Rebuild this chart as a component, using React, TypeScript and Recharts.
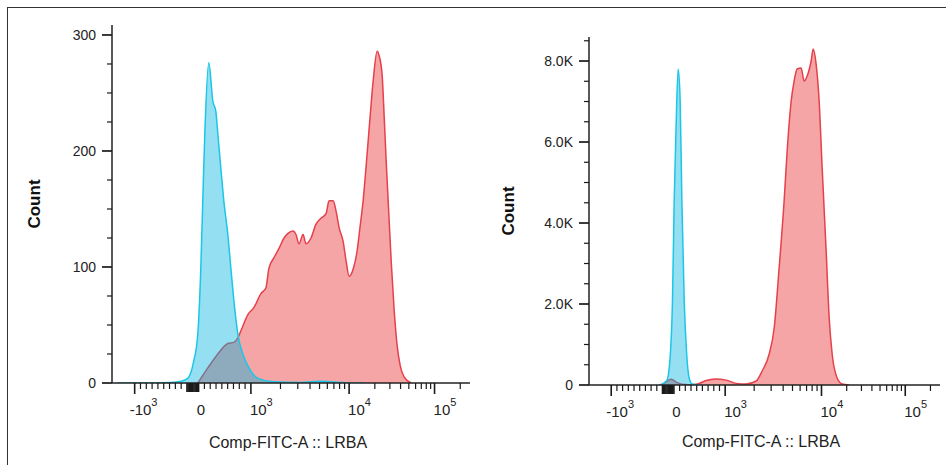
import React from 'react';
import { ComposedChart, Area, XAxis, YAxis } from 'recharts';

// Comp-FITC-A values (x) and event counts
const leftCtrlX = [-1500, -380, -200, -86, 17, 86, 138, 172, 207, 276, 345, 397, 431, 483, 534, 603, 655, 707, 776, 862, 966, 1180, 1720, 3200, 5000, 6500, 10500, 15000];
const leftCtrlCount = [0, 0.5, 1.5, 4, 19, 42, 99, 157, 215, 276, 243, 234, 215, 185, 157, 128, 99, 71, 42, 25, 13, 4, 1, 0.5, 1.5, 1, 0, 0];

const leftLrbaX = [86, 259, 431, 603, 707, 776, 828, 948, 1073, 1264, 1422, 1526, 1718, 1931, 2174, 2386, 2682, 2877, 3090, 3396, 3640, 4094, 4605, 5176, 5821, 6250, 6871, 7370, 7907, 8690, 9320, 10000, 11140, 12410, 13450, 14590, 15820, 17630, 19100, 21280, 22490, 24380, 25720, 27170, 28650, 31090, 33720, 36530, 39630, 44190, 53380];
const leftLrbaCount = [0, 13, 25, 34, 35, 39, 45, 59, 65, 77, 82, 99, 108, 116, 125, 129, 131, 128, 120, 128, 120, 125, 137, 142, 146, 157, 157, 148, 134, 122, 105, 92, 98, 114, 135, 157, 187, 230, 260, 286, 282, 265, 230, 191, 157, 105, 62, 32, 15, 5, 0];

const rightCtrlX = [-158, -30, 18, 75, 105, 135, 175, 210, 240, 281, 321, 368, 420, 544];
const rightCtrlCount = [0, 99, 420, 2074, 4543, 6197, 7800, 7012, 4543, 2074, 840, 173, 25, 0];

const rightLrbaX = [-105, -18, 53, 158, 298, 421, 544, 667, 825, 1025, 1301, 1652, 2099, 2422, 2865, 3228, 3633, 4093, 4401, 4844, 5200, 5587, 6146, 6607, 7103, 7809, 8199, 8797, 9454, 10190, 11370, 12360, 13410, 15380, 17660, 21400];
const rightLrbaCount = [0, 99, 140, 60, 10, 5, 40, 110, 150, 120, 40, 25, 99, 346, 765, 1407, 2889, 4543, 5777, 7012, 7506, 7802, 7827, 7506, 7630, 8000, 8296, 7925, 7012, 5358, 3308, 1654, 765, 173, 25, 0];

// axis ticks (raw FITC values)
const xMajor = [-1000, 1000, 10000, 100000];
const xMajorLabels = [['-10', '3'], ['10', '3'], ['10', '4'], ['10', '5']];
const xZeroCluster = [-100, -80, -60, -40, -20, 0, 20, 40, 60, 80, 100];
const xLinearMinor = [-900, -800, -700, -600, -500, -400, -300, -200, 200, 300, 400, 500, 600, 700, 800, 900];
const xLogMinor = [2000, 3000, 4000, 5000, 6000, 7000, 8000, 9000, 20000, 30000, 40000, 50000, 60000, 70000, 80000, 90000, 200000];

const leftYTicks = [0, 25, 50, 75, 100, 125, 150, 175, 200, 225, 250, 275, 300];
const leftYLabels: Record<number, string> = { 0: '0', 100: '100', 200: '200', 300: '300' };
const rightYTicks = [0, 500, 1000, 1500, 2000, 2500, 3000, 3500, 4000, 4500, 5000, 5500, 6000, 6500, 7000, 7500, 8000, 8500];
const rightYLabels: Record<number, string> = { 0: '0', 2000: '2.0K', 4000: '4.0K', 6000: '6.0K', 8000: '8.0K' };

const FONT = '"Liberation Sans", Arial, sans-serif';
const INK = '#222';

// biexponential-like display: linear inside ±1000, log decades outside
const D1 = 1.69;
const D2 = 1.47;
function display(v: number): number {
  const a = Math.abs(v);
  if (a <= 1000) return v / 1000;
  const d = Math.log10(a);
  const t = d <= 4 ? 1 + (d - 3) * D1 : 1 + D1 + (d - 4) * D2;
  return Math.sign(v) * t;
}

const X_DOMAIN: [number, number] = [-1.39, 4.77];

type TickSpec = { kind: 'major' | 'cluster' | 'minor'; base?: string; exp?: string; dx?: number };
const tickSpecs = new Map<string, TickSpec>();
const k = (v: number) => v.toFixed(5);
xLinearMinor.concat(xLogMinor).forEach(v => tickSpecs.set(k(display(v)), { kind: 'minor' }));
xZeroCluster.forEach(v => tickSpecs.set(k(display(v)), { kind: 'cluster' }));
tickSpecs.set(k(0), { kind: 'cluster', base: '0', dx: 4 });
xMajor.forEach((v, i) =>
  tickSpecs.set(k(display(v)), { kind: 'major', base: xMajorLabels[i][0], exp: xMajorLabels[i][1], dx: v < 0 ? -5 : -1 })
);
const xTickValues = Array.from(tickSpecs.keys()).map(Number).sort((a, b) => a - b);

function XTick(props: any) {
  const { x, y, payload } = props;
  const spec = tickSpecs.get(k(payload.value)) || { kind: 'minor' };
  const len = spec.kind === 'minor' ? 6 : spec.kind === 'cluster' ? 9 : 11;
  return (
    <g>
      <line x1={x} x2={x} y1={y} y2={y + len} stroke="#1a1a1a" strokeWidth={spec.kind === 'minor' ? 1.2 : 1.6} />
      {spec.base && (
        <text x={x + (spec.dx || 0)} y={y + 32} fontSize={15} fill={INK} fontFamily={FONT} textAnchor="start">
          {spec.base}
          {spec.exp && (
            <tspan dy={-9} fontSize={11}>
              {spec.exp}
            </tspan>
          )}
        </text>
      )}
    </g>
  );
}

function YTick(props: any) {
  const { x, y, payload, labels } = props;
  const label = labels[payload.value];
  const major = label !== undefined;
  return (
    <g>
      <line x1={x - (major ? 10 : 5)} x2={x} y1={y} y2={y} stroke="#1a1a1a" strokeWidth={major ? 1.7 : 1.2} />
      {major && (
        <text x={x - 16} y={y} dy="0.36em" fontSize={14} fill={INK} fontFamily={FONT} textAnchor="end">
          {label}
        </text>
      )}
    </g>
  );
}

function CountTitle({ cx, cy }: { cx: number; cy: number }) {
  return (
    <text x={cx} y={cy} transform={`rotate(-90 ${cx} ${cy})`} dy="0.35em" textAnchor="middle" fontSize={17} fontWeight="bold" fill="#111" fontFamily={FONT}>
      Count
    </text>
  );
}

function XTitle({ cx, cy }: { cx: number; cy: number }) {
  return (
    <text x={cx} y={cy} textAnchor="middle" fontSize={16} fill={INK} fontFamily={FONT}>
      Comp-FITC-A :: LRBA
    </text>
  );
}

interface PanelProps {
  left: number;
  width: number;
  margin: { top: number; right: number; bottom: number; left: number };
  yMax: number;
  yTicks: number[];
  yLabels: Record<number, string>;
  ctrl: { pos: number; count: number }[];
  lrba: { pos: number; count: number }[];
  countPos: [number, number];
  titlePos: [number, number];
}

function Panel(p: PanelProps) {
  return (
    <div style={{ position: 'absolute', left: p.left, top: 0 }}>
      <ComposedChart width={p.width} height={465} margin={p.margin}>
        <XAxis
          xAxisId="b"
          dataKey="pos"
          type="number"
          domain={X_DOMAIN}
          allowDataOverflow
          ticks={xTickValues}
          interval={0}
          tickSize={0}
          tickMargin={0}
          height={30}
          tickLine={false}
          axisLine={{ stroke: INK, strokeWidth: 1.5 }}
          tick={(t: any) => <XTick {...t} />}
          label={<XTitle cx={p.titlePos[0]} cy={p.titlePos[1]} />}
        />
        <XAxis xAxisId="t" type="number" orientation="top" domain={X_DOMAIN} allowDataOverflow height={0} tick={false} tickLine={false} axisLine={{ stroke: INK, strokeWidth: 1.5 }} />
        <YAxis
          yAxisId="l"
          type="number"
          domain={[0, p.yMax]}
          allowDataOverflow
          ticks={p.yTicks}
          interval={0}
          tickSize={0}
          tickMargin={0}
          width={60}
          tickLine={false}
          axisLine={{ stroke: INK, strokeWidth: 1.5 }}
          tick={(t: any) => <YTick {...t} labels={p.yLabels} />}
          label={<CountTitle cx={p.countPos[0]} cy={p.countPos[1]} />}
        />
        <YAxis yAxisId="r" type="number" orientation="right" domain={[0, p.yMax]} allowDataOverflow width={0} tick={false} tickLine={false} axisLine={{ stroke: INK, strokeWidth: 1.5 }} />
        <Area
          xAxisId="b"
          yAxisId="l"
          data={p.lrba}
          dataKey="count"
          type="monotone"
          stroke="#e5404b"
          strokeWidth={1.5}
          fill="#f5a5a5"
          fillOpacity={1}
          dot={false}
          activeDot={false}
          isAnimationActive={false}
        />
        <Area
          xAxisId="b"
          yAxisId="l"
          data={p.ctrl}
          dataKey="count"
          type="monotone"
          stroke="#1cc6e6"
          strokeWidth={1.5}
          fill="#00b2df"
          fillOpacity={0.42}
          dot={false}
          activeDot={false}
          isAnimationActive={false}
        />
      </ComposedChart>
    </div>
  );
}

const toSeries = (xs: number[], cs: number[]) => xs.map((x, i) => ({ pos: display(x), count: cs[i] }));

export default function App() {
  return (
    <div style={{ position: 'absolute', left: 0, top: 0, width: 947, height: 465, background: '#fff', overflow: 'hidden' }}>
      <div style={{ position: 'absolute', left: 7, top: 7, width: 938, height: 470, borderTop: '1.6px solid #333', borderLeft: '1.6px solid #333' }} />
      <Panel
        left={0}
        width={480}
        margin={{ top: 25, right: 10, bottom: 52, left: 52 }}
        yMax={308.6}
        yTicks={leftYTicks}
        yLabels={leftYLabels}
        ctrl={toSeries(leftCtrlX, leftCtrlCount)}
        lrba={toSeries(leftLrbaX, leftLrbaCount)}
        countPos={[34, 204]}
        titlePos={[288, 448]}
      />
      <Panel
        left={480}
        width={467}
        margin={{ top: 37, right: 7, bottom: 50, left: 49 }}
        yMax={8593}
        yTicks={rightYTicks}
        yLabels={rightYLabels}
        ctrl={toSeries(rightCtrlX, rightCtrlCount)}
        lrba={toSeries(rightLrbaX, rightLrbaCount)}
        countPos={[28, 211]}
        titlePos={[281, 447]}
      />
    </div>
  );
}
